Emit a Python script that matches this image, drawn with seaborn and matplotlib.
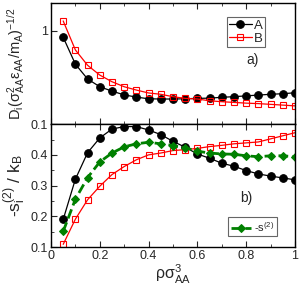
import matplotlib
matplotlib.use("Agg")
import matplotlib.pyplot as plt
import seaborn as sns
from matplotlib.ticker import MultipleLocator, FixedLocator

rho = [0.05, 0.1, 0.15, 0.2, 0.25, 0.3, 0.35, 0.4, 0.45, 0.5,
       0.55, 0.6, 0.65, 0.7, 0.75, 0.8, 0.85, 0.9, 0.95, 1.0]

diff_A = [0.855, 0.44, 0.305, 0.252, 0.226, 0.206, 0.195, 0.187, 0.186, 0.186,
          0.187, 0.189, 0.19, 0.194, 0.197, 0.201, 0.205, 0.209, 0.212, 0.217]
diff_B = [1.28, 0.625, 0.428, 0.336, 0.285, 0.252, 0.232, 0.216, 0.209, 0.197,
          0.189, 0.186, 0.178, 0.174, 0.171, 0.168, 0.166, 0.163, 0.16, 0.157]

s2_A = [0.19, 0.321, 0.407, 0.455, 0.484, 0.492, 0.492, 0.481, 0.466, 0.444,
        0.425, 0.403, 0.389, 0.373, 0.363, 0.349, 0.338, 0.331, 0.325, 0.319]
s2_B = [0.109, 0.191, 0.254, 0.298, 0.336, 0.362, 0.384, 0.4, 0.406, 0.414,
        0.417, 0.421, 0.427, 0.431, 0.436, 0.439, 0.442, 0.452, 0.462, 0.472]
s2_tot = [0.151, 0.256, 0.326, 0.377, 0.406, 0.426, 0.436, 0.441, 0.436, 0.43,
          0.423, 0.412, 0.406, 0.403, 0.402, 0.397, 0.394, 0.397, 0.397, 0.394]

sns.set_style("ticks")
plt.rcParams["font.family"] = ["Liberation Sans", "DejaVu Sans"]
plt.rcParams["mathtext.fontset"] = "custom"
plt.rcParams["mathtext.rm"] = "Liberation Sans"
plt.rcParams["mathtext.it"] = "Liberation Sans"
plt.rcParams["mathtext.default"] = "regular"

fig = plt.figure(figsize=(3.0, 2.88), dpi=100)
ax1 = fig.add_axes([0.17, 0.569, 0.813, 0.421])
ax2 = fig.add_axes([0.17, 0.142, 0.813, 0.427])

style_A = dict(color="black", marker="o", markersize=5.5, markeredgecolor="black", linewidth=0.9)
style_B = dict(color="red", marker="s", markersize=4.5, markerfacecolor="none",
               markeredgecolor="red", markeredgewidth=0.8, linewidth=0.9)

sns.lineplot(x=rho, y=diff_A, ax=ax1, label="A", **style_A)
sns.lineplot(x=rho, y=diff_B, ax=ax1, label="B", **style_B)
ax1.set_yscale("log")
ax1.set_ylim(0.1, 2)
ax1.set_xlim(0, 1)
ax1.yaxis.set_major_locator(FixedLocator([0.1, 1]))
ax1.yaxis.set_minor_locator(FixedLocator([]))
ax1.set_yticklabels(["0.1", "1"])
ax1.set_ylabel(r"D$_i$($\sigma^2_{AA}\epsilon_{AA}/m_A$)$^{-1/2}$", fontsize=10.5, labelpad=3)
ax1.xaxis.set_major_locator(MultipleLocator(0.2))
ax1.xaxis.set_minor_locator(MultipleLocator(0.1))
ax1.tick_params(axis="x", labelbottom=False)
ax1.text(0.8, 0.5, "a)", transform=ax1.transAxes, fontsize=10)
leg1 = ax1.legend(loc="upper left", bbox_to_anchor=(0.72, 0.88), fontsize=9.5,
                  handlelength=1.8, handletextpad=0.1, borderpad=0.15,
                  labelspacing=0.05, fancybox=False, framealpha=1, borderaxespad=0)
leg1.get_frame().set_edgecolor("#666666")
leg1.get_frame().set_linewidth(0.8)

sns.lineplot(x=rho, y=s2_A, ax=ax2, legend=False, **style_A)
sns.lineplot(x=rho, y=s2_B, ax=ax2, legend=False, **style_B)
sns.lineplot(x=rho, y=s2_tot, ax=ax2, label=r"-s$^{(2)}$", color="green", marker="D",
             markersize=4, markeredgecolor="green", linewidth=2, dashes=False,
             linestyle=(0, (3.5, 1.5)))
ax2.set_xlim(0, 1)
ax2.set_ylim(0.1, 0.5)
ax2.yaxis.set_major_locator(FixedLocator([0.1, 0.2, 0.3, 0.4]))
ax2.yaxis.set_minor_locator(MultipleLocator(0.05))
ax2.xaxis.set_minor_locator(MultipleLocator(0.1))
ax2.set_xticks([0, 0.2, 0.4, 0.6, 0.8, 1.0])
ax2.set_xticklabels(["0", "0.2", "0.4", "0.6", "0.8", "1"])
ax2.set_ylabel(r"-s$_i^{(2)}$ / k$_B$", fontsize=12.5, labelpad=2)
ax2.set_xlabel(r"$\rho\sigma^3_{AA}$", fontsize=11.5, labelpad=1)
ax2.text(0.775, 0.37, "b)", transform=ax2.transAxes, fontsize=10)
leg2 = ax2.legend(loc="upper left", bbox_to_anchor=(0.725, 0.245), fontsize=8,
                  handlelength=1.8, handletextpad=0.3, borderpad=0.25,
                  fancybox=False, framealpha=1, borderaxespad=0)
leg2.get_frame().set_edgecolor("#666666")
leg2.get_frame().set_linewidth(0.8)

for ax in (ax1, ax2):
    ax.tick_params(which="both", direction="in", top=True, right=False,
                   labelsize=9, pad=2)
    ax.tick_params(which="major", length=4, width=0.8)
    ax.tick_params(which="minor", length=2, width=0.6)
    for sp in ax.spines.values():
        sp.set_linewidth(1.0)
        sp.set_color("black")

fig.savefig("out.png", dpi=100)
